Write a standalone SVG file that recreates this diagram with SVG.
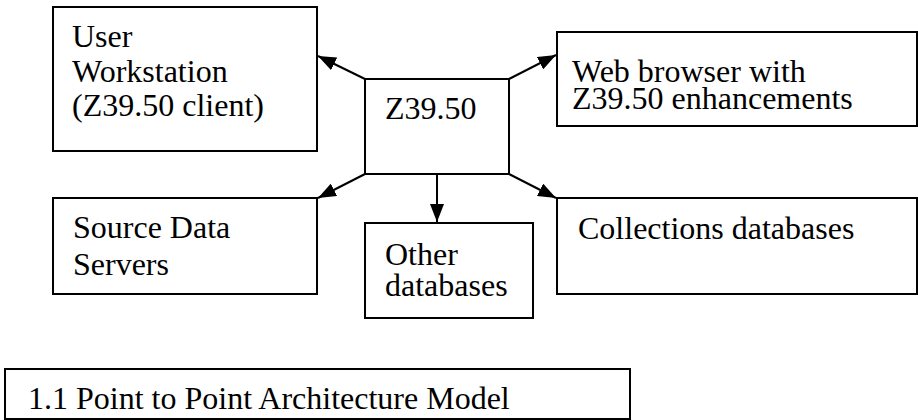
<svg xmlns="http://www.w3.org/2000/svg" width="918" height="420" viewBox="0 0 918 420">
<style>
.box{fill:#fff;stroke:#000;stroke-width:2}
.t{font-family:"Liberation Serif","Times New Roman",serif;font-size:32px;fill:#000}
.c{stroke:#000;stroke-width:2;fill:none;marker-end:url(#ah)}
</style>
<defs>
<marker id="ah" markerWidth="9" markerHeight="7" refX="9" refY="3.5" orient="auto" markerUnits="strokeWidth">
<path d="M0,0 L9,3.5 L0,7 Z" fill="#000"/>
</marker>
</defs>
<rect width="918" height="420" fill="#fff"/>
<g id="connectors">
<line class="c" x1="365" y1="79" x2="318" y2="56"/>
<line class="c" x1="509" y1="79" x2="556" y2="55"/>
<line class="c" x1="365" y1="174" x2="318" y2="198"/>
<line class="c" x1="509" y1="174" x2="556" y2="198"/>
<line class="c" x1="437" y1="174" x2="437" y2="222"/>
</g>
<g id="user">
<rect class="box" x="53" y="7" width="264" height="144"/>
<text class="t" x="72" y="47">User</text>
<text class="t" x="72" y="82">Workstation</text>
<text class="t" x="72" y="116">(Z39.50 client)</text>
</g>
<g id="z3950">
<rect class="box" x="365" y="79" width="144" height="95"/>
<text class="t" x="385" y="119">Z39.50</text>
</g>
<g id="web">
<rect class="box" x="557" y="32" width="360" height="94"/>
<text class="t" x="572" y="82">Web browser with</text>
<text class="t" x="572" y="109">Z39.50 enhancements</text>
</g>
<g id="source">
<rect class="box" x="53" y="198" width="264" height="96"/>
<text class="t" x="73" y="238">Source Data</text>
<text class="t" x="73" y="275">Servers</text>
</g>
<g id="other">
<rect class="box" x="365" y="223" width="168" height="95"/>
<text class="t" x="385" y="265">Other</text>
<text class="t" x="385" y="296">databases</text>
</g>
<g id="collections">
<rect class="box" x="557" y="198" width="360" height="96"/>
<text class="t" x="578" y="239">Collections databases</text>
</g>
<g id="caption">
<rect class="box" x="5" y="369" width="625" height="50"/>
<text class="t" x="28" y="409">1.1 Point to Point Architecture Model</text>
</g>
</svg>
